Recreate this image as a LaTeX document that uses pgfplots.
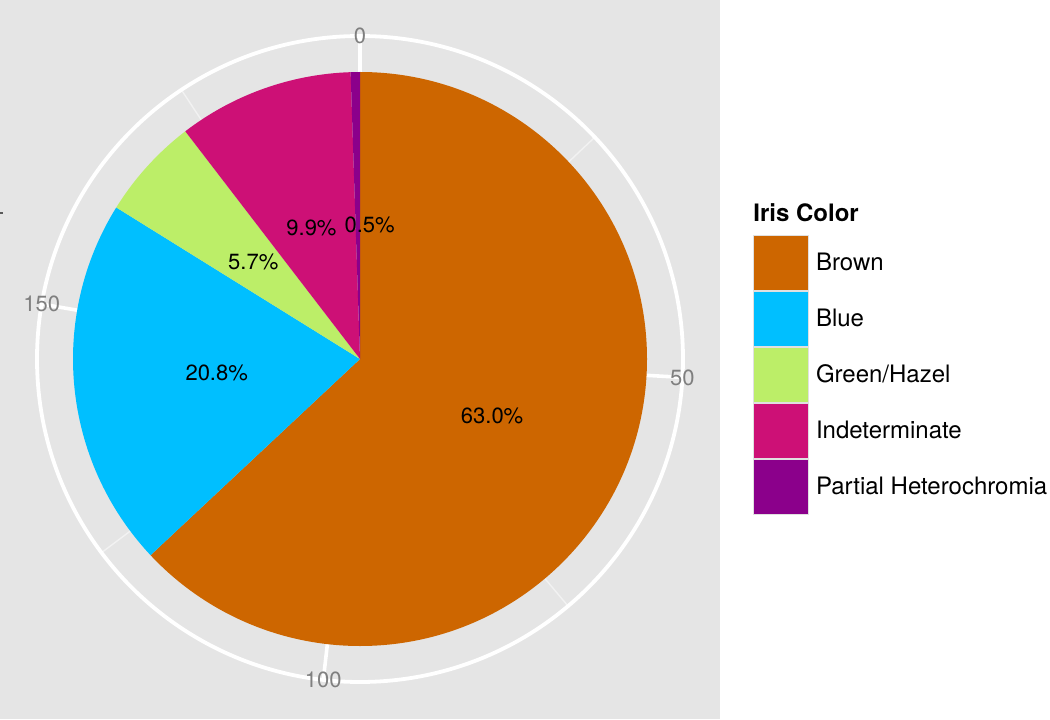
\documentclass[border=0pt]{standalone}
\usepackage{fontspec}
\setmainfont{TeX Gyre Heros}
\usepackage{pgfplots}
\usepackage{pgfplotstable}
\pgfplotsset{compat=1.18}
\definecolor{bgpanel}{HTML}{E5E5E5}
\definecolor{cBrown}{HTML}{CD6600}
\definecolor{cBlue}{HTML}{00BFFF}
\definecolor{cGreen}{HTML}{BCEE68}
\definecolor{cIndet}{HTML}{CD1076}
\definecolor{cPartial}{HTML}{8B008B}
\definecolor{tickgray}{HTML}{7F7F7F}
\definecolor{minorgrid}{HTML}{F2F2F2}

\pgfplotstableread{
color count
Brown 121
Blue 40
GreenHazel 11
Indeterminate 19
Partial 1
}\iristable

\pgfplotstablegetelem{0}{count}\of\iristable\edef\nA{\pgfplotsretval}
\pgfplotstablegetelem{1}{count}\of\iristable\edef\nB{\pgfplotsretval}
\pgfplotstablegetelem{2}{count}\of\iristable\edef\nC{\pgfplotsretval}
\pgfplotstablegetelem{3}{count}\of\iristable\edef\nD{\pgfplotsretval}
\pgfplotstablegetelem{4}{count}\of\iristable\edef\nE{\pgfplotsretval}
\pgfmathsetmacro\T{\nA+\nB+\nC+\nD+\nE}
\def\Tgrid{193}
\pgfmathsetmacro\cA{\nA}
\pgfmathsetmacro\cB{\cA+\nB}
\pgfmathsetmacro\cC{\cB+\nC}
\pgfmathsetmacro\cD{\cC+\nD}
\pgfmathsetmacro\cE{\cD+\nE}
\pgfmathsetmacro\tO{90}
\pgfmathsetmacro\tA{90-360*(\cA/\T)}
\pgfmathsetmacro\tB{90-360*(\cB/\T)}
\pgfmathsetmacro\tC{90-360*(\cC/\T)}
\pgfmathsetmacro\tD{90-360*(\cD/\T)}
\pgfmathsetmacro\tE{90-360*(\cE/\T)}
\pgfmathsetmacro\mA{(\tO+\tA)/2}
\pgfmathsetmacro\mB{(\tA+\tB)/2}
\pgfmathsetmacro\mC{(\tB+\tC)/2}
\pgfmathsetmacro\mD{(\tC+\tD)/2}
\pgfmathsetmacro\mE{(\tD+\tE)/2}
\pgfmathsetmacro\pA{100*(\nA/\T)}
\pgfmathsetmacro\pB{100*(\nB/\T)}
\pgfmathsetmacro\pC{100*(\nC/\T)}
\pgfmathsetmacro\pD{100*(\nD/\T)}
\pgfmathsetmacro\pE{100*(\nE/\T)}
\def\R{143.5}
\def\Rout{161.5}
\def\Rlab{72}
\newcommand\pct[1]{\pgfmathprintnumber[assume math mode=true,fixed,fixed zerofill,precision=1]{#1}\%}

\begin{document}
\begin{tikzpicture}
\begin{axis}[
  x=1pt, y=1pt, xmin=-180, xmax=180, ymin=-180, ymax=179.5,
  hide axis, clip=false,
  legend style={name=leg, at={(axis cs:196.5,62)}, anchor=north west,
    draw=none, fill=none, inner sep=0pt, outer sep=0pt, row sep=0pt,
    nodes={inner sep=0pt, outer sep=0pt},
    font=\fontsize{12}{14}\selectfont,
    /tikz/every odd column/.append style={column sep=3.5pt}},
  legend cell align=left,
  legend image code/.code={\draw[#1, draw=white!88!black, line width=0.5pt] (0pt,-13.75pt) rectangle (27.5pt,13.75pt);},
]
\fill[bgpanel] (axis cs:-180,-180) rectangle (axis cs:180,179.5);
\coordinate (BL) at (axis cs:-180,-180);
\coordinate (TR) at (axis cs:345,179.5);
\draw[black!65, line width=1pt] (axis cs:-180,73) -- (axis cs:-178.6,73);
% minor grid
\pgfplotsinvokeforeach{25,75,125,175}{
  \draw[minorgrid, line width=0.7pt] (axis cs:0,0) -- (axis cs:{\Rout*cos(90-360*(#1/\Tgrid))},{\Rout*sin(90-360*(#1/\Tgrid))});
}
% major grid
\pgfplotsinvokeforeach{0,50,100,150}{
  \draw[white, line width=1.8pt] (axis cs:0,0) -- (axis cs:{\Rout*cos(90-360*(#1/\Tgrid))},{\Rout*sin(90-360*(#1/\Tgrid))});
}
\draw[white, line width=1.9pt] (axis cs:0,0) circle[radius=\Rout pt];
% slices
\fill[cBrown] (axis cs:0,0) -- (axis cs:{\R*cos(\tO)},{\R*sin(\tO)}) arc[start angle=\tO, end angle=\tA, radius=\R pt] -- cycle;
\fill[cBlue] (axis cs:0,0) -- (axis cs:{\R*cos(\tA)},{\R*sin(\tA)}) arc[start angle=\tA, end angle=\tB, radius=\R pt] -- cycle;
\fill[cGreen] (axis cs:0,0) -- (axis cs:{\R*cos(\tB)},{\R*sin(\tB)}) arc[start angle=\tB, end angle=\tC, radius=\R pt] -- cycle;
\fill[cIndet] (axis cs:0,0) -- (axis cs:{\R*cos(\tC)},{\R*sin(\tC)}) arc[start angle=\tC, end angle=\tD, radius=\R pt] -- cycle;
\fill[cPartial] (axis cs:0,0) -- (axis cs:{\R*cos(\tD)},{\R*sin(\tD)}) arc[start angle=\tD, end angle=\tE, radius=\R pt] -- cycle;
% slice labels
\node[font=\fontsize{11}{13}\selectfont] at (axis cs:{\Rlab*cos(\mA)},{\Rlab*sin(\mA)}) {\pct{\pA}};
\node[font=\fontsize{11}{13}\selectfont] at (axis cs:{\Rlab*cos(\mB)},{\Rlab*sin(\mB)}) {\pct{\pB}};
\node[font=\fontsize{11}{13}\selectfont] at (axis cs:{\Rlab*cos(\mC)},{\Rlab*sin(\mC)}) {\pct{\pC}};
\node[font=\fontsize{11}{13}\selectfont, yshift=-2pt] at (axis cs:{\Rlab*cos(\mD)},{\Rlab*sin(\mD)}) {\pct{\pD}};
\node[font=\fontsize{11}{13}\selectfont, xshift=6pt, yshift=-5pt] at (axis cs:{\Rlab*cos(\mE)},{\Rlab*sin(\mE)}) {\pct{\pE}};
% theta tick labels
\pgfplotsinvokeforeach{0,50,100,150}{
  \node[text=tickgray, font=\fontsize{11}{13}\selectfont] at (axis cs:{\Rout*cos(90-360*(#1/\Tgrid))},{\Rout*sin(90-360*(#1/\Tgrid))}) {#1};
}
\addlegendimage{fill=cBrown}\addlegendentry{Brown}
\addlegendimage{fill=cBlue}\addlegendentry{Blue}
\addlegendimage{fill=cGreen}\addlegendentry{Green/Hazel}
\addlegendimage{fill=cIndet}\addlegendentry{Indeterminate}
\addlegendimage{fill=cPartial}\addlegendentry{Partial Heterochromia}
\end{axis}
\node[anchor=base west, inner sep=0pt, font=\bfseries\fontsize{12}{14}\selectfont] at ([yshift=6.5pt]leg.north west) {Iris Color};
\pgfresetboundingbox
\useasboundingbox (BL) rectangle (TR);
\end{tikzpicture}
\end{document}
